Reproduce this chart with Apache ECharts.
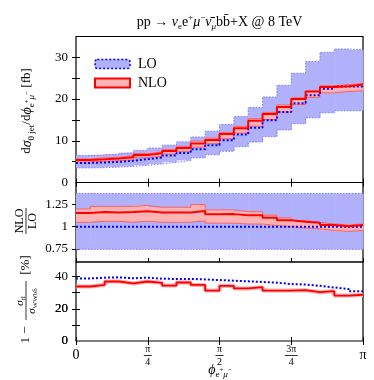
<!DOCTYPE html>
<html>
<head>
<meta charset="utf-8">
<script src="https://cdn.jsdelivr.net/npm/echarts@6/dist/echarts.min.js"></script>
<style>
  html, body { margin: 0; padding: 0; background: #fff; }
  #chart { width: 374px; height: 380px; }
</style>
</head>
<body>
<div id="chart"></div>
<script>
// phi(e+ mu-) distribution, 20 bins from 0 to pi
var PI = Math.PI;
var nBins = 20;
var binEdges = [];
for (var k = 0; k <= nBins; k++) binEdges.push(k * PI / nBins);

// top panel: d sigma / d phi [fb]
var loXsec      = [4.7, 4.8, 4.95, 5.2, 5.6, 6.0, 6.5, 7.1, 7.95, 8.95, 10.1, 11.5, 13.1, 14.9, 16.9, 19.0, 20.9, 22.5, 23.0, 23.0];
var loXsecHigh  = [6.5, 6.6, 6.8, 7.15, 7.7, 8.25, 8.95, 9.75, 10.9, 12.3, 13.9, 15.8, 18.0, 20.5, 23.3, 26.2, 29.0, 31.2, 32.0, 31.8];
var loXsecLow   = [3.5, 3.55, 3.7, 3.85, 4.15, 4.45, 4.85, 5.3, 5.9, 6.65, 7.5, 8.6, 9.7, 11.0, 12.6, 14.1, 15.5, 16.7, 17.2, 17.2];
var nloXsec     = [5.4, 5.55, 5.75, 6.05, 6.6, 7.0, 7.55, 8.25, 9.35, 10.2, 11.6, 13.0, 14.8, 16.4, 18.1, 20.0, 21.8, 22.9, 23.1, 23.5];
var nloXsecHigh = [5.64, 5.9, 6.09, 6.4, 6.94, 7.32, 7.93, 8.66, 9.94, 10.65, 12.0, 13.45, 15.3, 16.8, 18.6, 20.3, 21.9, 23.2, 23.5, 23.7];
var nloXsecLow  = [4.94, 5.09, 5.25, 5.46, 5.94, 6.3, 6.83, 7.46, 8.47, 9.31, 10.5, 11.85, 13.5, 15.1, 16.9, 18.7, 20.4, 21.5, 21.8, 22.0];

// middle panel: NLO / LO
var loRatio      = [1, 1, 1, 1, 1, 1, 1, 1, 1, 1, 1, 1, 1, 1, 1, 1, 1, 1, 1, 1];
var loRatioHigh  = [1.376, 1.376, 1.376, 1.376, 1.376, 1.376, 1.376, 1.376, 1.376, 1.376, 1.376, 1.376, 1.376, 1.376, 1.376, 1.376, 1.376, 1.376, 1.376, 1.376];
var loRatioLow   = [0.743, 0.743, 0.743, 0.743, 0.743, 0.743, 0.743, 0.743, 0.743, 0.743, 0.743, 0.743, 0.743, 0.743, 0.743, 0.743, 0.743, 0.743, 0.743, 0.743];
var nloRatio     = [1.155, 1.165, 1.16, 1.165, 1.175, 1.16, 1.16, 1.16, 1.178, 1.14, 1.142, 1.13, 1.13, 1.10, 1.073, 1.056, 1.043, 1.018, 1.006, 1.02];
var nloRatioHigh = [1.20, 1.23, 1.23, 1.23, 1.24, 1.22, 1.22, 1.22, 1.25, 1.19, 1.19, 1.17, 1.17, 1.13, 1.10, 1.07, 1.05, 1.03, 1.02, 1.03];
var nloRatioLow  = [1.05, 1.06, 1.06, 1.05, 1.06, 1.05, 1.05, 1.05, 1.065, 1.04, 1.04, 1.03, 1.03, 1.013, 1.0, 0.985, 0.975, 0.957, 0.946, 0.957];

// bottom panel: 1 - sigma_tt / sigma_WWbb [%]
var loOffShell  = [38.8, 39.3, 39.5, 38.9, 39.3, 38.6, 38.5, 38.5, 38.2, 37.8, 37.4, 37.0, 36.6, 36.2, 35.3, 35.0, 34.2, 33.2, 32.2, 30.8];
var nloOffShell = [33.8, 34.8, 36.9, 35.7, 36.9, 36.1, 34.4, 36.3, 34.8, 31.3, 34.2, 32.6, 33.4, 31.3, 31.3, 31.5, 30.3, 30.9, 28.2, 28.7];

// ticks and labels
var xTicks = [0, PI / 4, PI / 2, 3 * PI / 4, PI];
var yTicksTop = [5, 10, 15, 20, 25, 30];
var yLabelsTop = [0, 10, 20, 30];
var yTicksRatio = [0.75, 1, 1.25];
var yTicksBottom = [10, 20, 30, 40];
var yLabelStepBottom = 20;
var yLabelsBottomLow = [0, 20];

var F = "'Liberation Serif', 'DejaVu Serif', serif";
var LO_FILL = '#b0b0fb';
var LO_EDGE = '#7a7aff';
var NLO_FILL = '#ffb4b4';
var NLO_EDGE = '#ff6060';

function stepPoints(vals) {
  var pts = [];
  for (var i = 0; i < vals.length; i++) {
    pts.push([binEdges[i], vals[i]]);
    pts.push([binEdges[i + 1], vals[i]]);
  }
  return pts;
}

function bandData(low, high) {
  var d = [];
  for (var i = 0; i < low.length; i++) d.push([binEdges[i], binEdges[i + 1], low[i], high[i]]);
  return d;
}

function bandSeries(name, g, low, high, fill, z) {
  return {
    name: name, type: 'custom', xAxisIndex: 2 * g, yAxisIndex: 2 * g, z: z,
    silent: true, animation: false,
    data: bandData(low, high),
    encode: { x: [0, 1], y: [2, 3] },
    renderItem: function (params, api) {
      var p0 = api.coord([api.value(0), api.value(3)]);
      var p1 = api.coord([api.value(1), api.value(2)]);
      return {
        type: 'rect',
        shape: { x: p0[0], y: p0[1], width: p1[0] - p0[0] + 0.5, height: p1[1] - p0[1] },
        style: { fill: fill }
      };
    }
  };
}

function stepSeries(name, g, vals, color, width, type, z) {
  return {
    name: name, type: 'line', xAxisIndex: 2 * g, yAxisIndex: 2 * g, z: z,
    silent: true, animation: false, symbol: 'none',
    data: stepPoints(vals),
    lineStyle: { color: color, width: width, type: type }
  };
}

var grids = [
  { left: 76, top: 36.5, width: 287, height: 146 },
  { left: 76, top: 182.5, width: 287, height: 79.5 },
  { left: 76, top: 262, width: 287, height: 79 }
];
grids.forEach(function (g) {
  g.show = true;
  g.borderColor = '#000';
  g.borderWidth = 1.2;
  g.backgroundColor = 'transparent';
  g.outerBoundsMode = 'none';
});

function near(a, b) { return Math.abs(a - b) < 1e-6; }

var xAxes = [];
for (var g = 0; g < 3; g++) {
  ['bottom', 'top'].forEach(function (pos) {
    xAxes.push({
      type: 'value', gridIndex: g, position: pos, min: 0, max: PI,
      axisLine: { show: false },
      splitLine: { show: false },
      axisTick: { show: true, inside: true, length: 4, customValues: xTicks, lineStyle: { color: '#000', width: 1 } },
      axisLabel: {
        show: g === 2 && pos === 'bottom',
        customValues: xTicks,
        margin: 3,
        color: '#000',
        fontFamily: F,
        formatter: function (v) {
          if (near(v, 0)) return '{m|0}';
          if (near(v, PI)) return '{m|π}';
          if (near(v, PI / 4)) return '{n|π}\n{bar|}\n{n|4}';
          if (near(v, PI / 2)) return '{n|π}\n{bar|}\n{n|2}';
          return '{n|3π}\n{bar3|}\n{n|4}';
        },
        rich: {
          m: { fontSize: 14, lineHeight: 23, fontFamily: F, color: '#000', align: 'center' },
          n: { fontSize: 10, lineHeight: 10, fontFamily: F, color: '#000', align: 'center' },
          bar: { width: 8, height: 0.8, lineHeight: 3, backgroundColor: '#000', align: 'center' },
          bar3: { width: 13, height: 0.8, lineHeight: 3, backgroundColor: '#000', align: 'center' }
        }
      }
    });
  });
}

function yAxis(g, pos, min, max, ticks, label) {
  return {
    type: 'value', gridIndex: g, position: pos, min: min, max: max,
    axisLine: { show: false },
    splitLine: { show: false },
    axisTick: { show: true, inside: true, length: 4, customValues: ticks, lineStyle: { color: '#000', width: 1 } },
    axisLabel: Object.assign({ show: pos === 'left', margin: 8, color: '#000', fontSize: 13, fontFamily: F }, label)
  };
}

var yAxes = [
  yAxis(0, 'left', 0, 35, yTicksTop, { customValues: yLabelsTop }),
  yAxis(0, 'right', 0, 35, yTicksTop, {}),
  yAxis(1, 'left', 0.6, 1.5, yTicksRatio, { customValues: yTicksRatio }),
  yAxis(1, 'right', 0.6, 1.5, yTicksRatio, {}),
  yAxis(2, 'left', 0, 49, yTicksBottom, {
    showMinLabel: true, showMaxLabel: false, hideOverlap: false,
    formatter: function (v) { return v % yLabelStepBottom === 0 ? String(v) : ''; }
  }),
  yAxis(2, 'right', 0, 49, yTicksBottom, {})
];
yAxes[4].interval = 10;

var series = [
  // top panel
  bandSeries('LO', 0, loXsecLow, loXsecHigh, LO_FILL, 1),
  stepSeries('LO up', 0, loXsecHigh, LO_EDGE, 1, [1.5, 1.5], 2),
  stepSeries('LO down', 0, loXsecLow, LO_EDGE, 1, [1.5, 1.5], 2),
  bandSeries('NLO', 0, nloXsecLow, nloXsecHigh, NLO_FILL, 3),
  stepSeries('NLO up', 0, nloXsecHigh, NLO_EDGE, 1, 'solid', 4),
  stepSeries('NLO down', 0, nloXsecLow, NLO_EDGE, 1, 'solid', 4),
  stepSeries('LO central', 0, loXsec, '#0000ff', 2, [2, 2], 5),
  stepSeries('NLO central', 0, nloXsec, '#ff0000', 2, 'solid', 6),
  // ratio panel
  bandSeries('LO', 1, loRatioLow, loRatioHigh, LO_FILL, 1),
  stepSeries('LO r up', 1, loRatioHigh, LO_EDGE, 1, [1.5, 1.5], 2),
  stepSeries('LO r down', 1, loRatioLow, LO_EDGE, 1, [1.5, 1.5], 2),
  bandSeries('NLO', 1, nloRatioLow, nloRatioHigh, NLO_FILL, 3),
  stepSeries('NLO r up', 1, nloRatioHigh, NLO_EDGE, 1, 'solid', 4),
  stepSeries('NLO r down', 1, nloRatioLow, NLO_EDGE, 1, 'solid', 4),
  stepSeries('LO r central', 1, loRatio, '#0000ff', 2, [2, 2], 5),
  stepSeries('NLO r central', 1, nloRatio, '#ff0000', 2, 'solid', 6),
  // off-shell panel
  stepSeries('LO off', 2, loOffShell, '#0000ff', 2, [2, 2], 5),
  stepSeries('NLO off halo', 2, nloOffShell, '#ffb0b0', 4, 'solid', 4),
  stepSeries('NLO off', 2, nloOffShell, '#ff0000', 1.8, 'solid', 6)
];

var mathRich = {
  i: { fontSize: 14, fontStyle: 'italic', fontFamily: F, lineHeight: 18 },
  sub: { fontSize: 9, fontFamily: F, verticalAlign: 'bottom', lineHeight: 10 },
  subi: { fontSize: 9, fontStyle: 'italic', fontFamily: F, verticalAlign: 'bottom', lineHeight: 10 },
  sup: { fontSize: 9, fontFamily: F, verticalAlign: 'top', lineHeight: 10 },
  ss: { fontSize: 7, fontFamily: F, verticalAlign: 'middle', lineHeight: 10 }
};

// smaller variant for the fraction in the bottom y title
var fracRich = {
  i: { fontSize: 11, fontStyle: 'italic', fontFamily: F, lineHeight: 14 },
  sub: { fontSize: 7, fontFamily: F, verticalAlign: 'bottom', lineHeight: 8 }
};

function mathText(x, y, text, rot, size) {
  return {
    type: 'text', x: x, y: y, rotation: rot || 0, silent: true,
    style: {
      text: text, rich: mathRich, fill: '#000',
      font: (size || 13) + 'px ' + F, lineHeight: 18,
      align: 'center', verticalAlign: 'middle'
    }
  };
}

var graphics = [
  // title
  mathText(219.5, 22, 'pp → {i|ν}{sub|e}e{sup|+}{i|μ}{sup|−}{i|ν̄}{subi|μ}bb̄+X @ 8 TeV', 0, 14),
  // top y title
  mathText(27, 111, 'd{i|σ}{sub|0 jet}/d{i|ϕ}{sub|e}{ss|+}{subi|μ}{ss|−} [fb]', PI / 2, 13),
  // ratio y title
  {
    type: 'group', x: 26, y: 221, rotation: PI / 2, silent: true,
    children: [
      { type: 'text', x: 0, y: -6, style: { text: 'NLO', font: '12px ' + F, fill: '#000', align: 'center', verticalAlign: 'middle' } },
      { type: 'rect', shape: { x: -13, y: -0.4, width: 26, height: 0.8 }, style: { fill: '#000' } },
      { type: 'text', x: 0, y: 6.5, style: { text: 'LO', font: '12px ' + F, fill: '#000', align: 'center', verticalAlign: 'middle' } }
    ]
  },
  // bottom y title
  {
    type: 'group', x: 26, y: 300, rotation: PI / 2, silent: true,
    children: [
      { type: 'text', x: -35, y: 0, style: { text: '1 −', font: '13px ' + F, fill: '#000', align: 'center', verticalAlign: 'middle' } },
      { type: 'text', x: -1, y: -6, style: { text: '{i|σ}{sub|tt̄}', rich: fracRich, font: '11px ' + F, lineHeight: 14, fill: '#000', align: 'center', verticalAlign: 'middle' } },
      { type: 'rect', shape: { x: -20, y: -0.4, width: 39, height: 0.8 }, style: { fill: '#000' } },
      { type: 'text', x: -1, y: 6, style: { text: '{i|σ}{sub|WWbb̄}', rich: fracRich, font: '11px ' + F, lineHeight: 14, fill: '#000', align: 'center', verticalAlign: 'middle' } },
      { type: 'text', x: 35, y: 0, style: { text: '[%]', font: '13px ' + F, fill: '#000', align: 'center', verticalAlign: 'middle' } }
    ]
  },
  // x axis title
  mathText(220, 370, '{i|ϕ}{sub|e}{ss|+}{subi|μ}{ss|−}')
];

var chart = echarts.init(document.getElementById('chart'), null, { renderer: 'canvas' });
chart.setOption({
  animation: false,
  backgroundColor: '#fff',
  grid: grids,
  xAxis: xAxes,
  yAxis: yAxes,
  legend: {
    show: true, orient: 'vertical', left: 89, top: 52,
    itemWidth: 35, itemHeight: 9, itemGap: 5, selectedMode: false,
    textStyle: { fontSize: 14, fontFamily: F, color: '#000', padding: [0, 0, 0, 3] },
    data: [
      { name: 'LO', icon: 'roundRect', itemStyle: { color: LO_FILL, borderColor: '#0000ff', borderWidth: 1.5, borderType: [2, 2] } },
      { name: 'NLO', icon: 'rect', itemStyle: { color: NLO_FILL, borderColor: '#ff0000', borderWidth: 2 } }
    ]
  },
  graphic: graphics,
  series: series
});

// the lower tick labels of the bottom panel get dropped by the axis, so place
// them through the axis scale itself
try {
  var extra = yLabelsBottomLow.map(function (v) {
    var p = chart.convertToPixel({ xAxisIndex: 4, yAxisIndex: 4 }, [0, v]);
    return {
      type: 'text', x: p[0] - 8, y: p[1], z: 100, silent: true,
      style: { text: String(v), font: '13px ' + F, fill: '#000', align: 'right', verticalAlign: 'middle' }
    };
  });
  chart.setOption({ graphic: graphics.concat(extra) });
} catch (e) {
  console.warn('could not place bottom labels:', e);
}
</script>
</body>
</html>
